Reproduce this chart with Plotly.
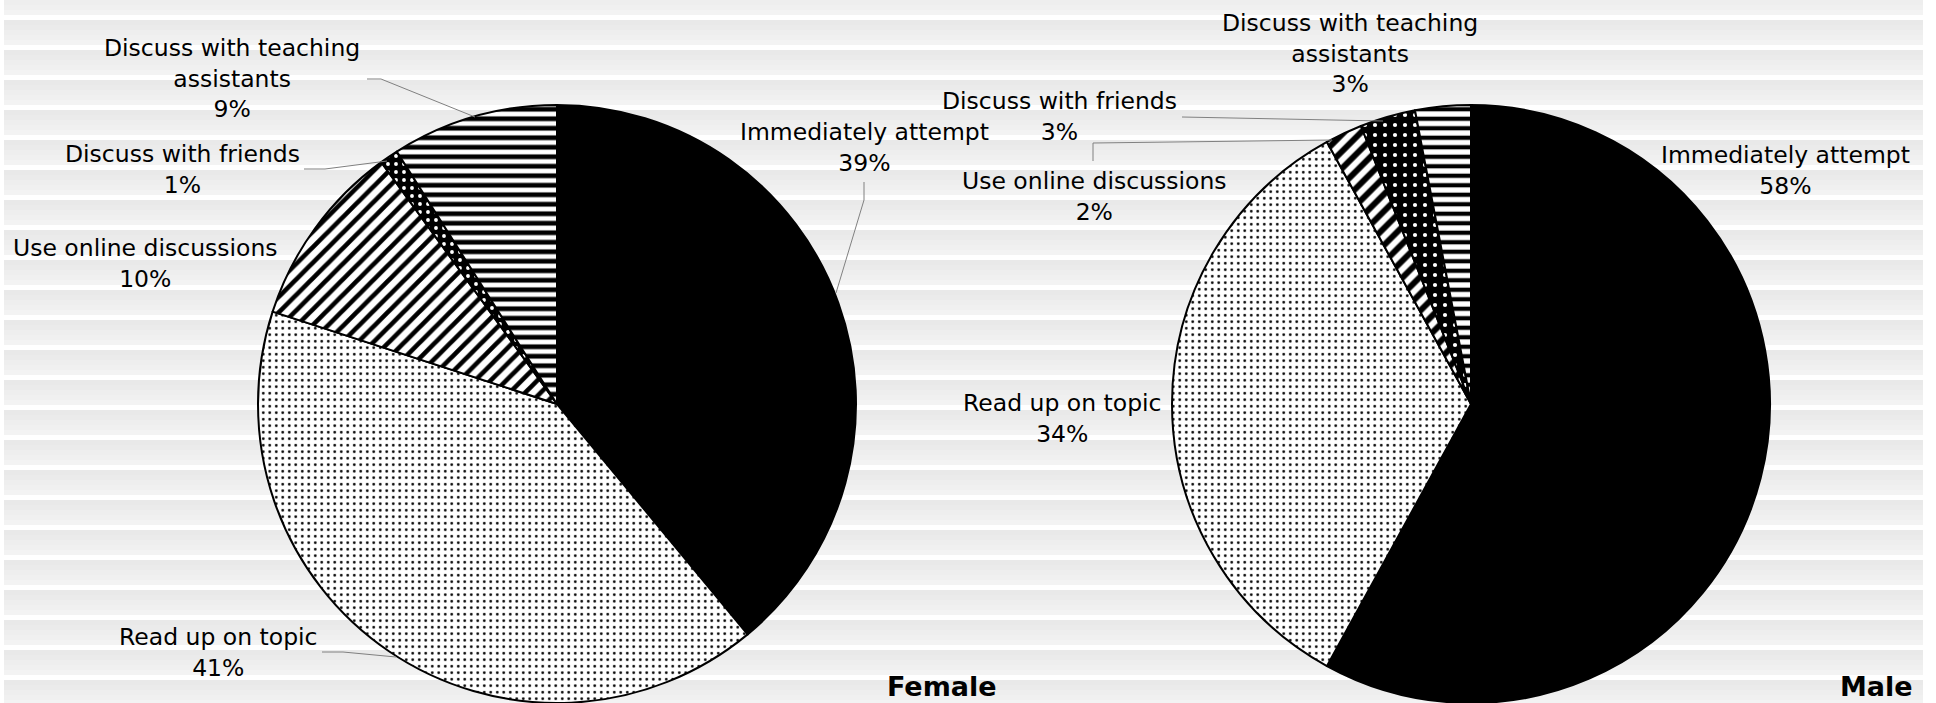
import plotly.graph_objects as go

W, H = 1936, 703

categories = ["Immediately attempt", "Read up on topic", "Use online discussions",
              "Discuss with friends", "Discuss with teaching assistants"]
female_pct = [39, 41, 10, 1, 9]
male_pct = [58, 34, 2, 3, 3]
groups = ["Female", "Male"]

# slice styling (same order as categories)
colors = ["black", "white", "white", "black", "white"]
shapes_f = ["", ".", "/", ".", "-"]
fg_f = ["black", "black", "black", "white", "black"]
size_f = [8, 6.5, 11, 8, 9.5]
sol_f = [0.2, 0.14, 0.42, 0.18, 0.5]
shapes_m = ["", ".", "/", ".", "-"]
size_m = [8, 6.5, 12, 10, 9.5]
sol_m = [0.2, 0.14, 0.5, 0.14, 0.45]

# layout in pixels
pie_cx = [557, 1471]
pie_r = 299
female_label_xy = [(864, 147), (218, 652), (145, 263), (182, 169), (232, 79)]
male_label_xy = [(1785, 170), (1062, 418), (1094, 196), (1059, 117), (1350, 53)]
female_leaders = [[(864, 182), (864, 200), (836, 293)], [(322, 652), (343, 652), (396, 657)], None,
                  [(304, 169), (325, 169), (387, 161)], [(367, 79), (381, 79), (475, 117)]]
male_leaders = [None, None, [(1093, 161), (1093, 143), (1332, 140)],
                [(1182, 117), (1383, 121)], None]
title_xy = [(942, 686), (1876, 686)]


def px(x, y):
    return x / W, 1 - y / H


fig = go.Figure()

for vals, cx, shp, size, sol in [(female_pct, pie_cx[0], shapes_f, size_f, sol_f),
                                  (male_pct, pie_cx[1], shapes_m, size_m, sol_m)]:
    fig.add_trace(go.Pie(
        labels=categories, values=vals, sort=False, direction="clockwise", rotation=0,
        textinfo="none", hoverinfo="label+percent", showlegend=False,
        domain=dict(x=[(cx - pie_r) / W, (cx + pie_r) / W], y=[0, 2 * pie_r / H]),
        marker=dict(colors=colors, line=dict(color="black", width=2),
                    pattern=dict(shape=shp, fgcolor=fg_f, bgcolor=colors,
                                 size=size, solidity=sol, fillmode="replace")),
    ))

shapes = []
# striped background, each band a soft gradient
band_cols = ["#e9e9e9", "#ebebeb", "#eeeeee", "#f0f0f0", "#f3f3f3"]
for k in range(-1, H // 30 + 2):
    for j, c in enumerate(band_cols):
        y0, y1 = 20 + 30 * k + 5 * j, 25 + 30 * k + 5 * j
        y0, y1 = min(max(y0, 0), H), min(max(y1, 0), H)
        if y1 <= y0:
            continue
        shapes.append(dict(type="rect", xref="paper", yref="paper", layer="below",
                           x0=4 / W, x1=1923 / W, y0=1 - y1 / H, y1=1 - y0 / H,
                           fillcolor=c, line=dict(width=0)))

annotations = []
for vals, pos, leaders in [(female_pct, female_label_xy, female_leaders),
                           (male_pct, male_label_xy, male_leaders)]:
    for cat, v, (x, y), ld in zip(categories, vals, pos, leaders):
        ax, ay = px(x, y)
        annotations.append(dict(x=ax, y=ay, xref="paper", yref="paper", showarrow=False,
                                text=cat.replace("teaching ", "teaching<br>") + f"<br>{v}%",
                                font=dict(family="DejaVu Sans", size=23.5, color="black"),
                                xanchor="center", yanchor="middle", align="center"))
        if ld:
            path = "M " + " L ".join(f"{px(a, b)[0]},{px(a, b)[1]}" for a, b in ld)
            shapes.append(dict(type="path", xref="paper", yref="paper", path=path,
                               line=dict(color="#808080", width=1)))

for g, (x, y) in zip(groups, title_xy):
    ax, ay = px(x, y)
    annotations.append(dict(x=ax, y=ay, xref="paper", yref="paper", showarrow=False,
                            text=f"<b>{g}</b>", xanchor="center", yanchor="middle",
                            font=dict(family="DejaVu Sans", size=27, color="black")))

fig.update_layout(
    width=W, height=H, margin=dict(l=0, r=0, t=0, b=0),
    paper_bgcolor="white", plot_bgcolor="white",
    shapes=shapes, annotations=annotations,
)

# drop the browser's default page margin so the figure sits at the top-left corner
fig.write_html("out.html", config={"displayModeBar": False},
               post_script="document.body.style.margin='0';")
